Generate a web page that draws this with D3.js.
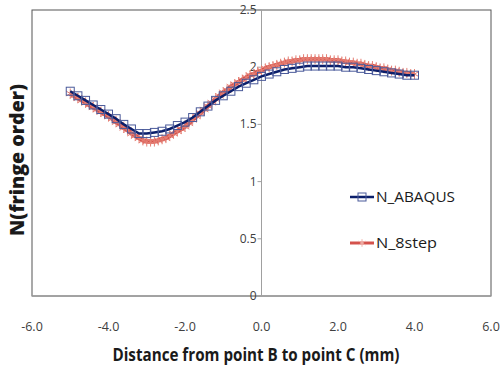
<!DOCTYPE html>
<html>
<head>
<meta charset="utf-8">
<script src="https://cdn.jsdelivr.net/npm/d3@7"></script>
<style>
  body { margin: 0; background: #fff; }
  text { font-family: "Open Sans", sans-serif; }
</style>
</head>
<body>
<script>
// ABAQUS result, every 0.2 mm from -5 to 4
const abaqusX = d3.range(46).map(i => -5 + i * 0.2);
const abaqusN = [1.79, 1.75, 1.71, 1.67, 1.63, 1.59, 1.55, 1.50, 1.46, 1.42,
                 1.42, 1.43, 1.44, 1.46, 1.49, 1.52, 1.56, 1.61, 1.66, 1.71,
                 1.75, 1.79, 1.83, 1.86, 1.89, 1.92, 1.94, 1.96, 1.98, 1.99,
                 2.00, 2.01, 2.01, 2.01, 2.01, 2.01, 2.00, 2.00, 1.99, 1.98,
                 1.97, 1.96, 1.95, 1.94, 1.93, 1.93];

// 8-step phase shifting, every 0.1 mm from -5 to 4
const stepX = d3.range(91).map(i => -5 + i * 0.1);
const stepN = [1.77, 1.75, 1.73, 1.71, 1.69, 1.67, 1.65, 1.63, 1.61, 1.59,
               1.57, 1.55, 1.52, 1.50, 1.47, 1.45, 1.42, 1.40, 1.38, 1.36,
               1.35, 1.35, 1.35, 1.36, 1.37, 1.38, 1.40, 1.42, 1.44, 1.46,
               1.48, 1.51, 1.54, 1.57, 1.60, 1.63, 1.66, 1.69, 1.72, 1.75,
               1.78, 1.80, 1.83, 1.85, 1.87, 1.89, 1.91, 1.93, 1.94, 1.96,
               1.97, 1.99, 2.00, 2.01, 2.02, 2.03, 2.04, 2.05, 2.05, 2.06,
               2.06, 2.07, 2.07, 2.07, 2.07, 2.07, 2.07, 2.07, 2.06, 2.06,
               2.06, 2.05, 2.05, 2.04, 2.04, 2.03, 2.03, 2.02, 2.01, 2.01,
               2.00, 1.99, 1.99, 1.98, 1.97, 1.97, 1.96, 1.95, 1.95, 1.94,
               1.94];

const xTicks = [-6, -4, -2, 0, 2, 4, 6];
const yTicks = [0, 0.5, 1, 1.5, 2, 2.5];
const seriesNames = ["N_ABAQUS", "N_8step"];

const width = 501, height = 367;
const plotL = 32, plotR = 491, plotT = 10, plotB = 296;

const svg = d3.select("body").append("svg")
  .attr("width", width)
  .attr("height", height);

const x = d3.scaleLinear().domain([-6, 6]).range([plotL, plotR]);
const y = d3.scaleLinear().domain([0, 2.5]).range([plotB, plotT]);

// frame
svg.append("rect")
  .attr("x", plotL).attr("y", plotT)
  .attr("width", plotR - plotL).attr("height", plotB - plotT)
  .attr("fill", "none").attr("stroke", "#555").attr("stroke-width", 1);

// bottom axis line
svg.append("line")
  .attr("x1", plotL).attr("x2", plotR)
  .attr("y1", y(0)).attr("y2", y(0))
  .attr("stroke", "#a0a0a0").attr("stroke-width", 1.5);

// vertical axis at x = 0
svg.append("line")
  .attr("x1", x(0)).attr("x2", x(0))
  .attr("y1", plotT).attr("y2", plotB)
  .attr("stroke", "#a0a0a0").attr("stroke-width", 1);

// y ticks + labels
svg.selectAll("line.ytick").data(yTicks).enter().append("line")
  .attr("class", "ytick")
  .attr("x1", x(0) - 4).attr("x2", x(0))
  .attr("y1", d => y(d)).attr("y2", d => y(d))
  .attr("stroke", "#a0a0a0");

svg.selectAll("text.ylab").data(yTicks).enter().append("text")
  .attr("class", "ylab")
  .attr("x", x(0) - 5)
  .attr("y", d => y(d) + 4)
  .attr("text-anchor", "end")
  .attr("font-size", 12)
  .attr("fill", "#404040")
  .text(d => d);

svg.selectAll("text.xlab").data(xTicks).enter().append("text")
  .attr("class", "xlab")
  .attr("x", d => x(d))
  .attr("y", 331)
  .attr("text-anchor", "middle")
  .attr("font-size", 12.5)
  .attr("fill", "#404040")
  .text(d => d.toFixed(1));

// axis titles
svg.append("text")
  .attr("x", 256).attr("y", 361)
  .attr("text-anchor", "middle")
  .attr("font-size", 18)
  .attr("font-weight", "bold")
  .attr("fill", "#1a1a1a")
  .attr("textLength", 287)
  .attr("lengthAdjust", "spacingAndGlyphs")
  .text("Distance from point B to point C (mm)");

svg.append("text")
  .attr("transform", "translate(24,160) rotate(-90)")
  .attr("text-anchor", "middle")
  .attr("font-size", 20)
  .attr("font-weight", "800")
  .attr("fill", "#1a1a1a")
  .attr("textLength", 152)
  .attr("lengthAdjust", "spacingAndGlyphs")
  .text("N(fringe order)");

const abaqus = abaqusX.map((v, i) => ({x: v, n: abaqusN[i]}));
const step = stepX.map((v, i) => ({x: v, n: stepN[i]}));

const line = d3.line().x(d => x(d.x)).y(d => y(d.n));

const red = "#d4524c", navy = "#0b1f6b", squareStroke = "#4a5a9a", starStroke = "#e57f74";
const star = d3.symbol().type(d3.symbolAsterisk).size(70);

// 8step series
svg.append("path").datum(step)
  .attr("d", line)
  .attr("fill", "none")
  .attr("stroke", red)
  .attr("stroke-width", 4.5);

svg.selectAll("path.star").data(step).enter().append("path")
  .attr("class", "star")
  .attr("d", star)
  .attr("transform", d => `translate(${x(d.x)},${y(d.n)})`)
  .attr("fill", "none")
  .attr("stroke", starStroke)
  .attr("stroke-width", 1);

// ABAQUS series
svg.append("path").datum(abaqus)
  .attr("d", line)
  .attr("fill", "none")
  .attr("stroke", navy)
  .attr("stroke-width", 2.5);

svg.selectAll("rect.sq").data(abaqus).enter().append("rect")
  .attr("class", "sq")
  .attr("x", d => x(d.x) - 4)
  .attr("y", d => y(d.n) - 4)
  .attr("width", 8).attr("height", 8)
  .attr("fill", "none")
  .attr("stroke", squareStroke)
  .attr("stroke-width", 1);

// legend
const legend = svg.append("g").attr("transform", "translate(350,197)");
const lg = legend.selectAll("g").data(seriesNames).enter().append("g")
  .attr("transform", (d, i) => `translate(0,${i * 46})`);

lg.append("line")
  .attr("x1", 0).attr("x2", 24)
  .attr("stroke", (d, i) => i === 0 ? navy : red)
  .attr("stroke-width", (d, i) => i === 0 ? 2.5 : 3);

lg.filter((d, i) => i === 0).append("rect")
  .attr("x", 8).attr("y", -4).attr("width", 8).attr("height", 8)
  .attr("fill", "none").attr("stroke", squareStroke);

lg.filter((d, i) => i === 1).append("path")
  .attr("d", d3.symbol().type(d3.symbolAsterisk).size(40))
  .attr("transform", "translate(12,0)")
  .attr("fill", "none").attr("stroke", "#f0b0a8");

lg.append("text")
  .attr("x", 26).attr("y", 5)
  .attr("font-size", 15)
  .attr("fill", "#1a1a1a")
  .attr("textLength", (d, i) => i === 0 ? 79 : 61)
  .attr("lengthAdjust", "spacingAndGlyphs")
  .text(d => d);
</script>
</body>
</html>
